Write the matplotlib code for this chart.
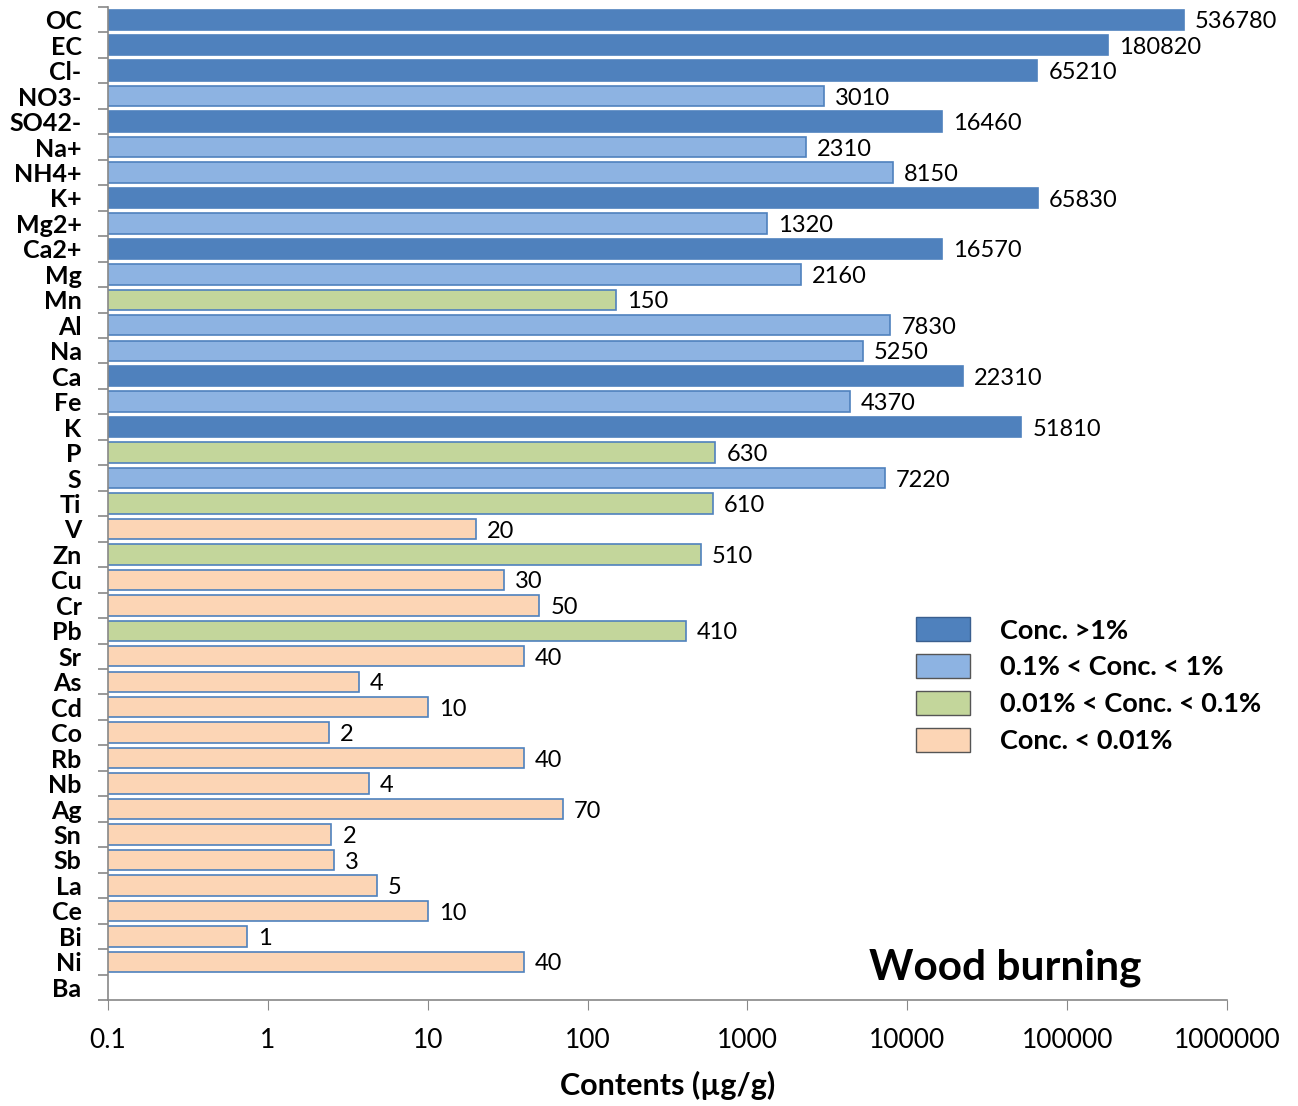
import numpy as np
import matplotlib.pyplot as plt
from matplotlib.patches import Patch
from matplotlib.ticker import FixedLocator, NullFormatter

# categories, top to bottom
species = ['OC', 'EC', 'Cl-', 'NO3-', 'SO42-', 'Na+', 'NH4+', 'K+', 'Mg2+', 'Ca2+',
           'Mg', 'Mn', 'Al', 'Na', 'Ca', 'Fe', 'K', 'P', 'S', 'Ti', 'V', 'Zn', 'Cu',
           'Cr', 'Pb', 'Sr', 'As', 'Cd', 'Co', 'Rb', 'Nb', 'Ag', 'Sn', 'Sb', 'La',
           'Ce', 'Bi', 'Ni', 'Ba']

# bar lengths (Ba has no bar)
contents = [536780, 180820, 65210, 3010, 16460, 2310, 8150, 65830, 1320, 16570,
            2160, 150, 7830, 5250, 22310, 4370, 51810, 630, 7220, 610, 20, 510, 30,
            50, 410, 40, 3.7, 10, 2.4, 40, 4.3, 70, 2.5, 2.6, 4.8,
            10, 0.74, 40, np.nan]

# printed labels next to the bars
value_labels = ['536780', '180820', '65210', '3010', '16460', '2310', '8150', '65830',
                '1320', '16570', '2160', '150', '7830', '5250', '22310', '4370', '51810',
                '630', '7220', '610', '20', '510', '30', '50', '410', '40', '4', '10',
                '2', '40', '4', '70', '2', '3', '5', '10', '1', '40', '']

# concentration class: 0 >1%, 1 0.1-1%, 2 0.01-0.1%, 3 <0.01%
conc_class = [0, 0, 0, 1, 0, 1, 1, 0, 1, 0,
              1, 2, 1, 1, 0, 1, 0, 2, 1, 2, 3, 2, 3,
              3, 2, 3, 3, 3, 3, 3, 3, 3, 3, 3, 3,
              3, 3, 3, 3]

class_names = ['Conc. >1%', '0.1% < Conc. < 1%', '0.01% < Conc. < 0.1%', 'Conc. < 0.01%']
class_colors = ['#4F81BD', '#8DB3E2', '#C3D69B', '#FCD5B5']
edge = '#4F81BD'

plt.rcParams['font.family'] = ['Lato', 'DejaVu Sans']

fig = plt.figure(figsize=(12.98, 11.06), dpi=100)
ax = fig.add_axes([0.0832, 0.0958, 0.8621, 0.8979])

y = np.arange(len(species))
colors = [class_colors[c] for c in conc_class]
ax.barh(y, contents, left=0, height=0.8, color=colors, edgecolor=edge, linewidth=1.2)

ax.set_xscale('log')
ax.set_xlim(0.1, 1e6)
ax.set_ylim(len(species) - 0.5, -0.5)

for yi, v, lab in zip(y, contents, value_labels):
    if lab:
        ax.annotate(lab, xy=(v, yi), xytext=(8, -1.5), textcoords='offset points',
                    va='center', ha='left', fontsize=17, annotation_clip=False)

# x axis
xt = [0.1, 1, 10, 100, 1000, 10000, 100000, 1000000]
ax.set_xticks(xt)
ax.set_xticklabels(['0.1', '1', '10', '100', '1000', '10000', '100000', '1000000'])
ax.xaxis.set_minor_locator(FixedLocator([]))
ax.tick_params(axis='x', which='major', length=7, color='#888888', labelsize=19, pad=13)
ax.set_xlabel('Contents (µg/g)', fontsize=22, fontweight='bold', labelpad=13)

# y axis: labels at centres, ticks at boundaries
ax.set_yticks(y)
ax.set_yticklabels(species, fontsize=18, fontweight='bold')
ax.tick_params(axis='y', which='major', length=0, pad=19)
ax.yaxis.set_minor_locator(FixedLocator(np.arange(-0.5, len(species), 1)))
ax.yaxis.set_minor_formatter(NullFormatter())
ax.tick_params(axis='y', which='minor', length=7, color='#888888', width=1.2)

for s in ['top', 'right']:
    ax.spines[s].set_visible(False)
for s in ['left', 'bottom']:
    ax.spines[s].set_color('#888888')
    ax.spines[s].set_linewidth(1.2)

handles = [Patch(facecolor=c, edgecolor='#555555' if i else '#3A5F8F', linewidth=1)
           for i, c in enumerate(class_colors)]
ax.legend(handles, class_names, loc='upper left', bbox_to_anchor=(0.700, 0.410),
          frameon=False, prop={'weight': 'bold', 'size': 19.5},
          handlelength=2.0, handleheight=1.0, handletextpad=1.1, labelspacing=0.42)

ax.text(0.68, 0.033, 'Wood burning', transform=ax.transAxes, fontsize=30.5,
        fontweight='bold', ha='left', va='center')

fig.savefig('out.png', dpi=100)
